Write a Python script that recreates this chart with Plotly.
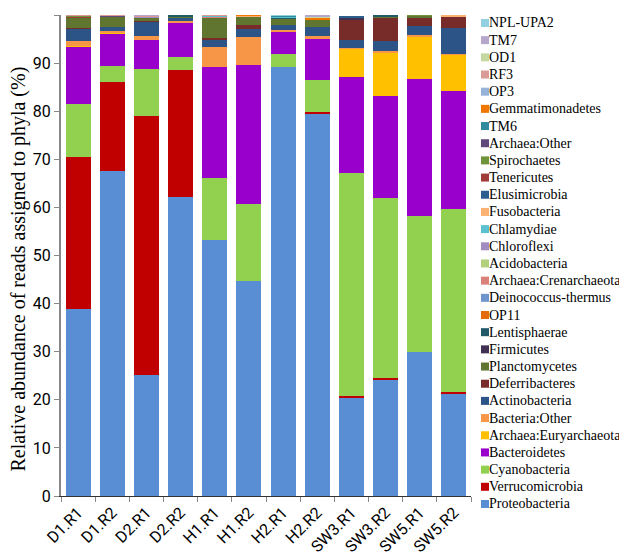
import plotly.graph_objects as go

samples = ["D1.R1", "D1.R2", "D2.R1", "D2.R2", "H1.R1", "H1.R2", "H2.R1", "H2.R2",
           "SW3.R1", "SW3.R2", "SW5.R1", "SW5.R2"]

proteobacteria   = [38.8, 67.5, 25.2, 62.1, 53.2, 44.6, 89.1, 79.5, 20.4, 24.3, 30.0, 21.4]
verrucomicrobia  = [31.7, 18.5, 53.7, 26.5, 0, 0, 0, 0.3, 0.4, 0.3, 0, 0.3]
cyanobacteria    = [11.0, 3.3, 9.8, 2.7, 13.0, 16.2, 2.8, 6.6, 46.4, 37.4, 28.2, 38.0]
bacteroidetes    = [12.0, 6.8, 6.1, 7.0, 23.0, 28.9, 4.7, 8.7, 19.9, 21.1, 28.5, 24.4]
euryarchaeota    = [0.1, 0.2, 0, 0, 0, 0, 0, 0, 5.9, 9.0, 8.9, 7.6]
bacteria_other   = [0.9, 0.4, 0.8, 0.5, 4.1, 5.8, 0.3, 0.6, 0.2, 0.4, 0.2, 0.2]
actinobacteria   = [2.7, 0.9, 3.1, 0.6, 1.5, 1.6, 1.1, 1.8, 1.7, 2.1, 1.9, 5.4]
deferribacteres  = [0.2, 0, 0.1, 0, 0.5, 0.9, 0, 0, 4.0, 4.8, 1.7, 2.4]
planctomycetes   = [2.1, 2.0, 0.7, 0.3, 4.1, 1.6, 1.2, 1.5, 0, 0.3, 0.4, 0]
firmicutes       = [0, 0, 0, 0, 0, 0, 0, 0, 0.6, 0, 0, 0]
lentisphaerae    = [0, 0, 0, 0.2, 0, 0, 0.2, 0, 0, 0.3, 0, 0]
op11             = [0, 0, 0, 0, 0, 0, 0, 0, 0, 0, 0, 0]
deinococcus      = [0, 0, 0, 0, 0, 0, 0, 0, 0, 0, 0, 0]
crenarchaeota    = [0, 0, 0, 0, 0.3, 0, 0, 0, 0, 0, 0, 0]
acidobacteria    = [0, 0, 0, 0, 0, 0, 0, 0, 0, 0, 0, 0]
chloroflexi      = [0, 0, 0.1, 0, 0, 0, 0, 0, 0, 0, 0, 0]
chlamydiae       = [0, 0, 0, 0, 0.2, 0, 0.3, 0, 0, 0, 0, 0]
fusobacteria     = [0, 0, 0, 0, 0, 0.2, 0, 0, 0, 0, 0, 0.2]
elusimicrobia    = [0, 0, 0, 0, 0, 0, 0, 0, 0.3, 0, 0, 0]
tenericutes      = [0.2, 0, 0, 0, 0, 0, 0, 0, 0, 0, 0, 0]
spirochaetes     = [0.1, 0, 0, 0, 0, 0, 0, 0, 0, 0, 0.2, 0]
archaea_other    = [0, 0.2, 0, 0, 0, 0, 0, 0, 0, 0, 0, 0]
tm6              = [0, 0, 0, 0, 0, 0, 0.1, 0, 0, 0, 0, 0]
gemmatimonadetes = [0, 0, 0, 0, 0, 0.2, 0, 0.5, 0, 0, 0, 0]
op3              = [0, 0, 0, 0, 0, 0, 0, 0, 0, 0, 0, 0]
rf3              = [0.2, 0.2, 0.2, 0, 0.1, 0, 0, 0, 0, 0, 0, 0]
od1              = [0, 0, 0, 0, 0, 0, 0, 0.25, 0, 0, 0, 0]
tm7              = [0, 0, 0.2, 0, 0, 0, 0, 0.25, 0, 0, 0, 0]
npl_upa2         = [0, 0, 0, 0, 0, 0, 0.2, 0, 0, 0, 0, 0]

series = [
    ("Proteobacteria", proteobacteria, "#5A8ED4"),
    ("Verrucomicrobia", verrucomicrobia, "#C00000"),
    ("Cyanobacteria", cyanobacteria, "#92D050"),
    ("Bacteroidetes", bacteroidetes, "#9900CC"),
    ("Archaea:Euryarchaeota", euryarchaeota, "#FFC000"),
    ("Bacteria:Other", bacteria_other, "#F79646"),
    ("Actinobacteria", actinobacteria, "#2D5487"),
    ("Deferribacteres", deferribacteres, "#772C2A"),
    ("Planctomycetes", planctomycetes, "#5F7530"),
    ("Firmicutes", firmicutes, "#403152"),
    ("Lentisphaerae", lentisphaerae, "#215968"),
    ("OP11", op11, "#E46C0A"),
    ("Deinococcus-thermus", deinococcus, "#6F94CE"),
    ("Archaea:Crenarchaeota", crenarchaeota, "#D9807B"),
    ("Acidobacteria", acidobacteria, "#B2CF7C"),
    ("Chloroflexi", chloroflexi, "#A28DC0"),
    ("Chlamydiae", chlamydiae, "#5BC0D0"),
    ("Fusobacteria", fusobacteria, "#FAB172"),
    ("Elusimicrobia", elusimicrobia, "#2C5F8E"),
    ("Tenericutes", tenericutes, "#A03C38"),
    ("Spirochaetes", spirochaetes, "#70923A"),
    ("Archaea:Other", archaea_other, "#604A7B"),
    ("TM6", tm6, "#2F8A9E"),
    ("Gemmatimonadetes", gemmatimonadetes, "#F07800"),
    ("OP3", op3, "#96B4DA"),
    ("RF3", rf3, "#DA9A98"),
    ("OD1", od1, "#C4D8A0"),
    ("TM7", tm7, "#B5A6CC"),
    ("NPL-UPA2", npl_upa2, "#92CFE0"),
]

fig = go.Figure()
for name, vals, color in series:
    fig.add_trace(go.Bar(x=samples, y=vals, name=name, marker_color=color,
                         marker_line_width=0, showlegend=False))

# manual legend (entries stacked bottom-up, Proteobacteria at the bottom)
L, T, W, H = 53, 7, 410, 483
annotations = []
shapes = []
for i, (name, vals, color) in enumerate(series):
    ypx = 498 - i * 17.25
    yp = (490 - ypx) / H
    annotations.append(dict(x=(481 - L) / W, y=yp, xref="paper", yref="paper",
                            text=name, showarrow=False, xanchor="left", yanchor="middle",
                            xshift=-2,
                            font=dict(family="Liberation Serif, Times New Roman, serif",
                                      size=14, color="#000")))
    shapes.append(dict(type="rect", xref="paper", yref="paper",
                       xsizemode="pixel", ysizemode="pixel",
                       xanchor=(477 - L) / W, yanchor=yp,
                       x0=-4, x1=4, y0=-4, y1=4,
                       fillcolor=color, line=dict(width=0)))

annotations.append(dict(x=0, y=0.5, xref="paper", yref="paper", xshift=-43, yshift=-14,
                        text="Relative abundance of reads assigned to phyla (%)",
                        textangle=-90, showarrow=False, xanchor="center", yanchor="middle",
                        font=dict(family="Liberation Serif, Times New Roman, serif",
                                  size=20, color="#000")))

tickfont = dict(family="Liberation Sans Narrow, Roboto, sans-serif", size=16, color="#000")
fig.update_layout(
    width=627, height=555,
    margin=dict(l=L, r=627 - L - W, t=T, b=555 - T - H),
    barmode="stack", bargap=0.27,
    plot_bgcolor="white", paper_bgcolor="white",
    annotations=annotations, shapes=shapes,
    xaxis=dict(tickangle=-45, tickson="boundaries", ticks="outside", ticklen=5,
               tickcolor="#888", showline=True, linecolor="#333", linewidth=1,
               tickfont=tickfont, showgrid=False),
    yaxis=dict(range=[0, 100], tickvals=list(range(0, 101, 10)), ticks="outside",
               ticklen=5, tickcolor="#888", showline=True, linecolor="#888",
               linewidth=2, showgrid=False, zeroline=False, tickfont=tickfont),
)

fig.write_html("out.html")
